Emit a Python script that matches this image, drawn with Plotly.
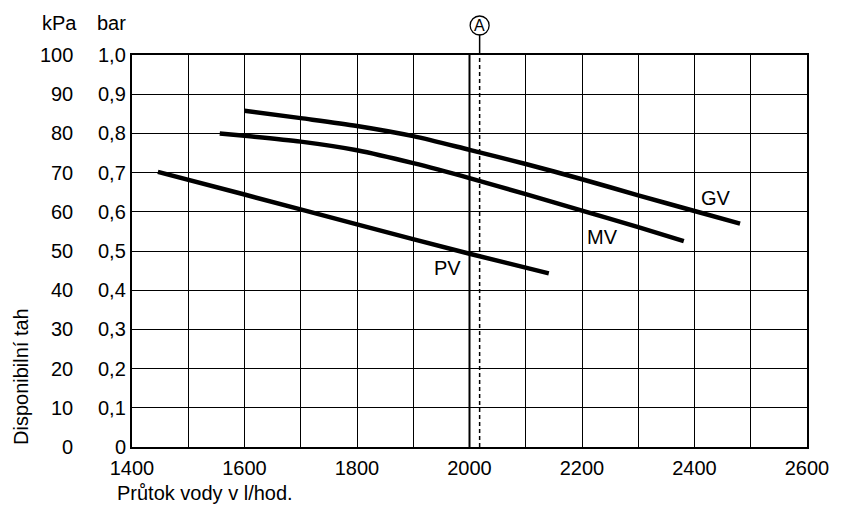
import plotly.graph_objects as go

# ---- data ----
gv_x = [1600, 1700, 1800, 1900, 2000, 2100, 2200, 2300, 2400, 2481]
gv_y = [85.8, 83.9, 81.9, 79.3, 75.8, 72.2, 68.3, 64.2, 60.2, 57.0]
mv_x = [1556, 1600, 1700, 1800, 1900, 2000, 2100, 2200, 2300, 2381]
mv_y = [80.0, 79.4, 77.9, 75.7, 72.4, 68.6, 64.5, 60.3, 56.1, 52.5]
pv_x = [1446, 1600, 1800, 2000, 2141]
pv_y = [70.2, 64.4, 56.8, 49.3, 44.3]

series_names = ["GV", "MV", "PV"]
label_pos_x = [2438, 2237, 1960]
label_pos_y = [63.6, 53.5, 45.7]

x_ticks = [1400, 1600, 1800, 2000, 2200, 2400, 2600]
kpa_ticks = [0, 10, 20, 30, 40, 50, 60, 70, 80, 90, 100]
bar_labels = ["0", "0,1", "0,2", "0,3", "0,4", "0,5", "0,6", "0,7", "0,8", "0,9", "1,0"]

marker_a_x = 2018
ref_line_x = 2000

FONT = "Liberation Sans, Arial, sans-serif"
FS = 20

fig = go.Figure()
for xs, ys in [(gv_x, gv_y), (mv_x, mv_y), (pv_x, pv_y)]:
    fig.add_trace(go.Scatter(x=xs, y=ys, mode="lines",
                             line=dict(color="black", width=4.5, shape="spline", smoothing=0.8),
                             showlegend=False, hoverinfo="skip"))

for name, lx, ly in zip(series_names, label_pos_x, label_pos_y):
    fig.add_annotation(x=lx, y=ly, text=name, showarrow=False,
                       font=dict(family=FONT, size=FS, color="black"))

# kPa column
for v in kpa_ticks:
    fig.add_annotation(xref="paper", x=0, xshift=-57, xanchor="right",
                       yref="y", y=v, yanchor="middle", text=str(v), showarrow=False,
                       font=dict(family=FONT, size=FS, color="black"))
# bar column
for v, t in zip(kpa_ticks, bar_labels):
    fig.add_annotation(xref="paper", x=0, xshift=-4, xanchor="right",
                       yref="y", y=v, yanchor="middle", text=t, showarrow=False,
                       font=dict(family=FONT, size=FS, color="black"))

# headers
fig.add_annotation(xref="paper", x=0, xshift=-92, xanchor="left",
                   yref="paper", y=1, yshift=32, yanchor="middle", text="kPa", showarrow=False,
                   font=dict(family=FONT, size=FS, color="black"))
fig.add_annotation(xref="paper", x=0, xshift=-4, xanchor="right",
                   yref="paper", y=1, yshift=32, yanchor="middle", text="bar", showarrow=False,
                   font=dict(family=FONT, size=FS, color="black"))

# axis titles
fig.add_annotation(xref="paper", x=0, xshift=-17, xanchor="left",
                   yref="paper", y=0, yshift=-46, yanchor="middle",
                   text="Průtok vody v l/hod.", showarrow=False,
                   font=dict(family=FONT, size=FS, color="black"))
fig.add_annotation(xref="paper", x=0, xshift=-111, xanchor="center",
                   yref="paper", y=0, yshift=70, yanchor="middle",
                   text="Disponibilní tah", textangle=-90, showarrow=False,
                   font=dict(family=FONT, size=FS, color="black"))

# reference lines
fig.add_shape(type="line", xref="x", yref="y", x0=ref_line_x, x1=ref_line_x, y0=0, y1=100,
              line=dict(color="black", width=2))
fig.add_shape(type="line", xref="x", yref="y", x0=marker_a_x, x1=marker_a_x, y0=0, y1=100,
              line=dict(color="black", width=1.5, dash="4px,3px"))
fig.add_shape(type="line", xref="x", yref="paper", x0=marker_a_x, x1=marker_a_x,
              y0=1, y1=1 + 20.5 / 392, line=dict(color="black", width=1.5))
fig.add_shape(type="circle", xref="x", yref="paper", xsizemode="pixel", ysizemode="pixel",
              xanchor=marker_a_x, yanchor=1 + 29.5 / 392, x0=-9.5, x1=9.5, y0=-9.5, y1=9.5,
              line=dict(color="black", width=1.3), fillcolor="rgba(0,0,0,0)")
fig.add_annotation(xref="x", x=marker_a_x, yref="paper", y=1 + 29.5 / 392,
                   xanchor="center", yanchor="middle", text="A",
                   showarrow=False, font=dict(family=FONT, size=16, color="black"))

fig.update_xaxes(range=[1400, 2600], tickvals=x_ticks, ticktext=[str(v) for v in x_ticks],
                 showgrid=True, gridcolor="black", gridwidth=1.3,
                 showline=True, linecolor="black", linewidth=2, mirror=True,
                 ticks="", tickfont=dict(family=FONT, size=FS, color="black"),
                 ticklabelstandoff=2, zeroline=False, fixedrange=True)
fig.update_xaxes(minor=dict(showgrid=True, gridcolor="black", gridwidth=1.3, dtick=100, tick0=1400))
fig.update_yaxes(range=[0, 100], tickvals=kpa_ticks, showticklabels=False,
                 showgrid=True, gridcolor="black", gridwidth=1.3,
                 showline=True, linecolor="black", linewidth=2, mirror=True,
                 ticks="", zeroline=False, fixedrange=True)

fig.update_layout(width=841, height=507, margin=dict(l=132, r=27, t=55, b=60),
                  paper_bgcolor="white", plot_bgcolor="white", showlegend=False,
                  font=dict(family=FONT, size=FS, color="black"))

fig.write_html("out.html", config={"displayModeBar": False},
               post_script="document.body.style.margin='0';document.body.style.overflow='hidden';")
